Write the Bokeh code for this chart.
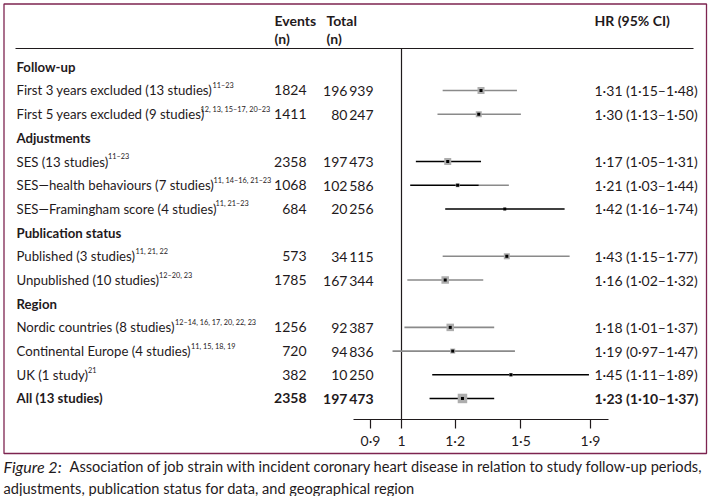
import math
from bokeh.plotting import figure
from bokeh.models import Range1d, LogScale, LogAxis, FixedTicker, CustomJSTickFormatter
from bokeh.core.properties import value
from bokeh.embed import file_html
from bokeh.resources import INLINE

# ---------------- data ----------------
row_labels = [
    "Follow-up",
    "First 3 years excluded (13 studies)",
    "First 5 years excluded (9 studies)",
    "Adjustments",
    "SES (13 studies)",
    "SES\u2014health behaviours (7 studies)",
    "SES\u2014Framingham score (4 studies)",
    "Publication status",
    "Published (3 studies)",
    "Unpublished (10 studies)",
    "Region",
    "Nordic countries (8 studies)",
    "Continental Europe (4 studies)",
    "UK (1 study)",
    "All (13 studies)",
]
row_kind = ["head", "row", "row", "head", "row", "row", "row", "head",
            "row", "row", "head", "row", "row", "row", "total"]
row_refs = ["", "11\u201323", "12, 13, 15\u201317, 20\u201323", "", "11\u201323",
            "11, 14\u201316, 21\u201323", "11, 21\u201323", "", "11, 21, 22",
            "12\u201320, 23", "", "12\u201314, 16, 17, 20, 22, 23",
            "11, 15, 18, 19", "21", ""]
events = [None, 1824, 1411, None, 2358, 1068, 684, None, 573, 1785, None,
          1256, 720, 382, 2358]
totals = [None, 196939, 80247, None, 197473, 102586, 20256, None, 34115,
          167344, None, 92387, 94836, 10250, 197473]
hr = [None, 1.31, 1.30, None, 1.17, 1.21, 1.42, None, 1.43, 1.16, None,
      1.18, 1.19, 1.45, 1.23]
hr_lo = [None, 1.15, 1.13, None, 1.05, 1.03, 1.16, None, 1.15, 1.02, None,
         1.01, 0.97, 1.11, 1.10]
hr_hi = [None, 1.48, 1.50, None, 1.31, 1.44, 1.74, None, 1.77, 1.32, None,
         1.37, 1.47, 1.89, 1.37]
# study weight shown as the grey box (px side)
box_weight = [None, 7, 6, None, 7, 4, 2, None, 6, 7.5, None, 7.5, 5, 3.5, 9.5]
# HR up to which the CI line is drawn black (rest grey)
ci_dark_to = [None, 1.15, 1.13, None, 1.31, 1.30, 1.74, None, 1.15, 1.02,
              None, 1.01, 0.97, 1.89, 1.37]
tick_values = [0.9, 1, 1.2, 1.5, 1.9]
null_hr = 1
col_headers = [("Events", "(n)"), ("Total", "(n)")]
hr_header = "HR (95% CI)"
caption_lead = "Figure 2:"
caption_l1 = ("Association of job strain with incident coronary heart disease "
              "in relation to study follow-up periods,")
caption_l2 = "adjustments, publication status for data, and geographical region"

# ---------------- layout (canvas px) ----------------
W, H = 708, 496


def row_y(i):
    return 66.3 + 23.69 * i


sup_x = [None, 212, 200, None, 107.5, 213, 215, None, 135, 158.5, None,
         174.5, 190.5, 87.5, None]

FONT = "Lato"
INK = "#1f1a1c"
GREY_LINE = "#8a8a8a"
GREY_BOX = "#adadad"
MAROON = "#7d2450"
FS = value("14px")
FS_LAB = value("13.2px")
FS_SUP = value("7.3px")
FS_CAP = value("14.6px")

# log range: HR 1 at x 401, HR 1.9 at x 590
x_one, x_top = 401, 590
k = (x_top - x_one) / math.log(tick_values[-1])
hr_start = math.exp(-x_one / k)
hr_end = math.exp((W - x_one) / k)

p = figure(width=W, height=H, x_range=Range1d(0, W), y_range=Range1d(H, 0),
           x_axis_location=None, y_axis_location=None, toolbar_location=None,
           output_backend="svg", min_border=0, outline_line_color=None,
           background_fill_color="white", border_fill_color="white")
p.grid.visible = False
p.extra_x_ranges = {"hr": Range1d(hr_start, hr_end)}
p.extra_x_scales = {"hr": LogScale()}

# frame box
p.quad(left=[3.5], right=[706], top=[3.5], bottom=[453],
       fill_color=None, line_color=MAROON, line_width=1.3)

# header
hx = [274, 326]
p.text(x=hx, y=[20] * 2, text=[h[0] for h in col_headers],
       text_font=value(FONT), text_font_size=FS, text_font_style="bold",
       text_color=INK, text_baseline="middle", text_align="left")
p.text(x=hx, y=[38] * 2, text=[h[1] for h in col_headers],
       text_font=value(FONT), text_font_size=FS, text_font_style="bold",
       text_color=INK, text_baseline="middle", text_align="left")
p.text(x=[594], y=[20], text=[hr_header],
       text_font=value(FONT), text_font_size=FS, text_font_style="bold",
       text_color=INK, text_baseline="middle", text_align="left")
p.segment(x0=[15], x1=[693], y0=[48], y1=[48], line_color=INK, line_width=1.2)

# null line
p.segment(x0=[null_hr], x1=[null_hr], y0=[48], y1=[419],
          x_range_name="hr", line_color=INK, line_width=1.2)


def fmt_n(n):
    return f"{n:,}".replace(",", "\u2009") if n >= 10000 else str(n)


def fmt_hr(v):
    return f"{v:.2f}".replace(".", "\u00b7")


for style, kinds in (("normal", ("row",)), ("bold", ("head", "total"))):
    idx = [i for i, kd in enumerate(row_kind) if kd in kinds]
    p.text(x=[16] * len(idx), y=[row_y(i) for i in idx],
           text=[row_labels[i] for i in idx], text_font=value(FONT),
           text_font_size=FS_LAB, text_font_style=style, text_color=INK,
           text_baseline="middle", text_align="left")
    didx = [i for i in idx if events[i] is not None]
    if didx:
        p.text(x=[306] * len(didx), y=[row_y(i) for i in didx],
               text=[str(events[i]) for i in didx], text_font=value(FONT),
               text_font_size=FS, text_font_style=style, text_color=INK,
               text_baseline="middle", text_align="right")
        p.text(x=[373] * len(didx), y=[row_y(i) for i in didx],
               text=[fmt_n(totals[i]) for i in didx], text_font=value(FONT),
               text_font_size=FS, text_font_style=style, text_color=INK,
               text_baseline="middle", text_align="right")
        p.text(x=[594] * len(didx), y=[row_y(i) for i in didx],
               text=[f"{fmt_hr(hr[i])} ({fmt_hr(hr_lo[i])}\u2013{fmt_hr(hr_hi[i])})"
                     for i in didx],
               text_font=value(FONT), text_font_size=FS,
               text_font_style=style, text_color=INK,
               text_baseline="middle", text_align="left")

# superscript references
sidx = [i for i, r in enumerate(row_refs) if r]
p.text(x=[sup_x[i] for i in sidx], y=[row_y(i) - 5 for i in sidx],
       text=[row_refs[i] for i in sidx], text_font=value(FONT),
       text_font_size=FS_SUP, text_color=INK, text_baseline="middle",
       text_align="left")

# CI lines, boxes, point estimates
didx = [i for i in range(len(hr)) if hr[i] is not None]
ys = [row_y(i) for i in didx]
p.segment(x0=[ci_dark_to[i] for i in didx], x1=[hr_hi[i] for i in didx],
          y0=ys, y1=ys, x_range_name="hr", line_color=GREY_LINE, line_width=1.6)
p.segment(x0=[hr_lo[i] for i in didx], x1=[ci_dark_to[i] for i in didx],
          y0=ys, y1=ys, x_range_name="hr", line_color="black", line_width=1.6)
p.scatter(x=[hr[i] for i in didx], y=ys, size=[box_weight[i] for i in didx],
          marker="square", x_range_name="hr", fill_color=GREY_BOX,
          line_color=None)
p.scatter(x=[hr[i] for i in didx], y=ys, size=3, marker="square",
          x_range_name="hr", fill_color="black", line_color=None)

# axis
ax = LogAxis(x_range_name="hr", fixed_location=419, bounds=(0.85, 2.02),
             ticker=FixedTicker(ticks=tick_values, minor_ticks=[]))
ax.formatter = CustomJSTickFormatter(code="return String(tick).replace('.', '\u00b7');")
ax.major_tick_out = 9
ax.major_tick_in = 0
ax.minor_tick_line_color = None
ax.axis_line_color = INK
ax.major_tick_line_color = INK
ax.axis_line_width = 1.2
ax.major_tick_line_width = 1.2
ax.major_label_text_font = FONT
ax.major_label_text_font_size = "14px"
ax.major_label_text_color = INK
ax.major_label_standoff = 3
p.add_layout(ax, "below")

# caption
p.text(x=[3], y=[466], text=[caption_lead], text_font=value(FONT),
       text_font_size=value("16px"), text_font_style="italic", text_color=INK,
       text_baseline="middle", text_align="left")
p.text(x=[69, 3], y=[466, 488], text=[caption_l1, caption_l2],
       text_font=value(FONT), text_font_size=FS_CAP, text_color=INK,
       text_baseline="middle", text_align="left")

open("out.html", "w").write(file_html(p, INLINE))
